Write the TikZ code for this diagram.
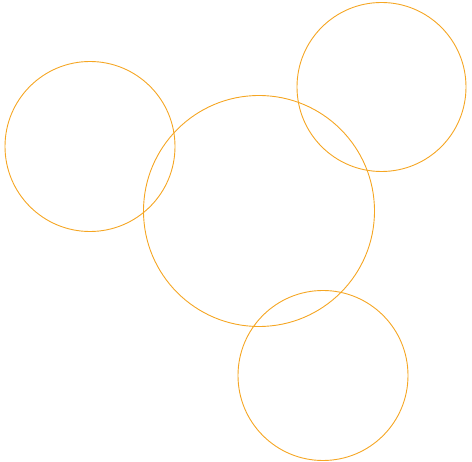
\documentclass[tikz,border=0pt]{standalone}
\usepackage{tikz}
\definecolor{ringorange}{HTML}{F5A623}

\begin{document}
\begin{tikzpicture}
	[x=1pt,y=-1pt,
		ring/.style={circle,draw=ringorange,line width=0.9pt,inner sep=0pt}]

	\useasboundingbox (0,0) rectangle (472,462);

	\node[ring, minimum size=170pt] (left) at (90,146.5) {};
	\node[ring, minimum size=231pt] (middle) at (259,211) {};
	\node[ring, minimum size=169pt] (topright) at (381.5,87) {};
	\node[ring, minimum size=170pt] (bottom) at (323,375.5) {};
\end{tikzpicture}
\end{document}
